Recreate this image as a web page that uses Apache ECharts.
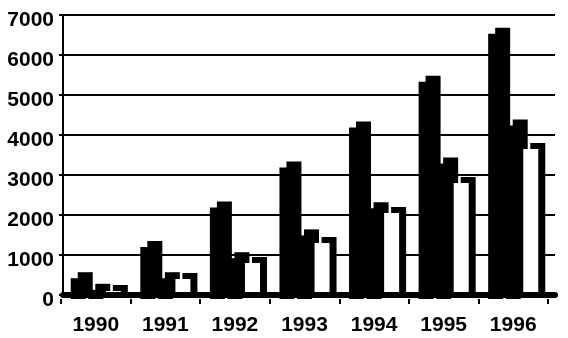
<!DOCTYPE html>
<html>
<head>
<meta charset="utf-8">
<script src="https://cdn.jsdelivr.net/npm/echarts@6/dist/echarts.min.js"></script>
<style>
	html, body { margin: 0; padding: 0; background: #fff; }
	#chart { width: 568px; height: 338px; }
</style>
</head>
<body>
<div id="chart"></div>
<script>
	// values
	var years = ['1990', '1991', '1992', '1993', '1994', '1995', '1996'];
	var seriesA = [520, 1300, 2290, 3290, 4290, 5430, 6630];
	var seriesB = [230, 520, 1020, 1590, 2270, 3390, 4340];
	var seriesC = [200, 500, 900, 1400, 2150, 2900, 3750];
	var yMin = 0, yMax = 7000, yStep = 1000;

	var font = { fontFamily: 'Liberation Sans, Arial, sans-serif', fontWeight: 'bold', fontSize: 21, color: '#000' };
	// fake 3D depth: hard black shadow up and to the right
	var depth = { shadowColor: '#000', shadowBlur: 0, shadowOffsetX: 7, shadowOffsetY: -6 };

	var myChart = echarts.init(document.getElementById('chart'), null, { renderer: 'canvas' });
	myChart.setOption({
		animation: false,
		backgroundColor: '#fff',
		grid: [
			// back wall (grid lines + value labels)
			{ left: 63, right: 13, top: 15, bottom: 43 },
			// front plane (bars + year labels)
			{ left: 61, right: 20, top: 19, bottom: 39 }
		],
		xAxis: [{
			gridIndex: 0,
			type: 'category',
			data: years,
			z: 5,
			axisLine: { lineStyle: { color: '#000', width: 6 } },
			axisTick: { show: false },
			axisLabel: { show: false }
		}, {
			gridIndex: 1,
			type: 'category',
			data: years,
			boundaryGap: true,
			z: 5,
			axisLine: { show: false },
			axisTick: { show: true, length: 5, lineStyle: { color: '#000', width: 2 } },
			axisLabel: Object.assign({ margin: 16 }, font)
		}],
		yAxis: [{
			gridIndex: 0,
			type: 'value',
			min: yMin,
			max: yMax,
			interval: yStep,
			axisLine: { show: true, lineStyle: { color: '#000', width: 2 } },
			axisTick: { show: true, length: 4, lineStyle: { color: '#000', width: 2 } },
			axisLabel: Object.assign({
				margin: 9,
				verticalAlign: 'top',
				lineHeight: 10,
				formatter: function (v) { return String(v); }
			}, font),
			splitLine: { show: true, lineStyle: { color: '#000', width: 2 } }
		}, {
			gridIndex: 1,
			type: 'value',
			min: yMin,
			max: yMax,
			show: false
		}],
		series: [{
			type: 'bar',
			xAxisIndex: 1,
			yAxisIndex: 1,
			data: seriesA,
			barWidth: 15,
			barGap: '17%',
			itemStyle: Object.assign({ color: '#000' }, depth)
		}, {
			type: 'bar',
			xAxisIndex: 1,
			yAxisIndex: 1,
			data: seriesB,
			barWidth: 15,
			barGap: '17%',
			itemStyle: Object.assign({ color: '#000' }, depth)
		}, {
			type: 'bar',
			xAxisIndex: 1,
			yAxisIndex: 1,
			data: seriesC,
			barWidth: 15,
			barGap: '17%',
			itemStyle: Object.assign({ color: '#fff' }, depth)
		}]
	});
</script>
</body>
</html>
